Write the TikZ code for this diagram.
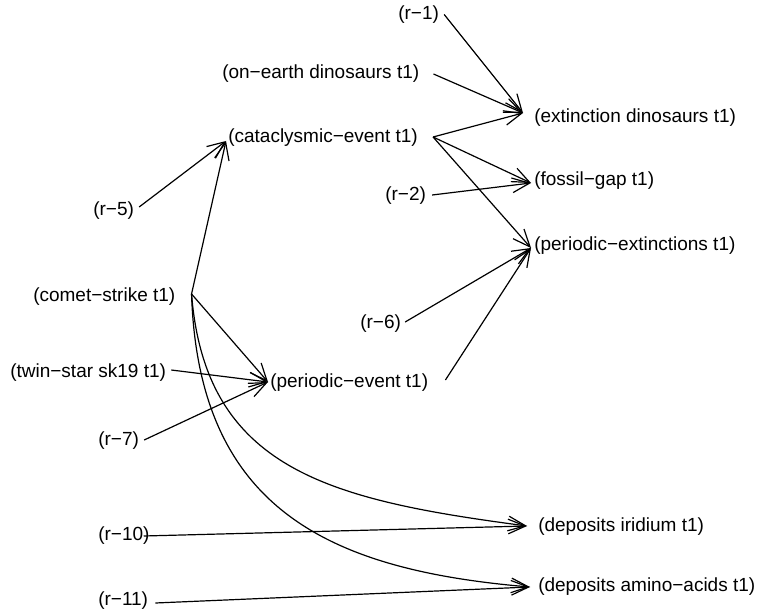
\documentclass[tikz,border=0pt]{standalone}
\usepackage{fontspec}
\setmainfont{Liberation Sans}
\usepackage{xcolor}
\usetikzlibrary{arrows.meta,calc}

\begin{document}
\begin{tikzpicture}[
  x=0.75pt,y=-0.75pt,
  term/.style={anchor=west,inner sep=0pt,font=\fontsize{14.25pt}{17pt}\selectfont},
  arrow/.style={-{Straight Barb[length=13pt,width=11pt]},line width=0.9pt}
]
\useasboundingbox (0,0) rectangle (760,616);
\node[term] (r1) at (398,14.5) {(r−1)};
\node[term] (onearth) at (222,74) {(on−earth dinosaurs t1)};
\node[term] (extinct) at (534,118) {(extinction dinosaurs t1)};
\node[term] (catac) at (228,138) {(cataclysmic−event t1)};
\node[term] (fossil) at (534,181) {(fossil−gap t1)};
\node[term] (r2) at (385,196) {(r−2)};
\node[term] (r5) at (93,211) {(r−5)};
\node[term] (perext) at (534,246) {(periodic−extinctions t1)};
\node[term] (comet) at (33,297) {(comet−strike t1)};
\node[term] (r6) at (360,324) {(r−6)};
\node[term] (twin) at (10,373) {(twin−star sk19 t1)};
\node[term] (perevent) at (270,383) {(periodic−event t1)};
\node[term] (r7) at (98,441) {(r−7)};
\node[term] (r10) at (98,536) {(r−10)};
\node[term] (irid) at (538,527) {(deposits iridium t1)};
\node[term] (r11) at (98,601) {(r−11)};
\node[term] (amino) at (538,587) {(deposits amino−acids t1)};
\draw[arrow] ($(r1.east)+(5,0)$) -- ($(extinct.west)+(-11,-5)$);
\draw[arrow] ($(onearth.east)+(14,0)$) -- ($(extinct.west)+(-11,-5)$);
\draw[arrow] ($(catac.east)+(15,-1)$) -- ($(extinct.west)+(-11,-5)$);
\draw[arrow] ($(catac.east)+(15,-1)$) -- ($(fossil.west)+(-3,2)$);
\draw[arrow] ($(catac.east)+(15,-1)$) -- ($(perext.west)+(-3,2)$);
\draw[arrow] ($(r2.east)+(6,-1)$) -- ($(fossil.west)+(-3,2)$);
\draw[arrow] ($(r6.east)+(4,-2)$) -- ($(perext.west)+(-3,2)$);
\draw[arrow] ($(perevent.east)+(17,-3)$) -- ($(perext.west)+(-3,2)$);
\draw[arrow] ($(r5.east)+(5,-4)$) -- ($(catac.west)+(-2,3)$);
\draw[arrow] ($(comet.east)+(16,-3)$) -- ($(catac.west)+(-2,3)$);
\draw[arrow] ($(comet.east)+(16,-3)$) -- ($(perevent.west)+(-2,-1)$);
\draw[arrow] ($(twin.east)+(5,-3)$) -- ($(perevent.west)+(-2,-1)$);
\draw[arrow] ($(r7.east)+(5,-1)$) -- ($(perevent.west)+(-2,-1)$);
\draw[arrow] ($(comet.east)+(16,-3)$) .. controls +(14,176) and +(-197,-26) .. ($(irid.west)+(-11,-1)$);
\draw[arrow] ($(comet.east)+(16,-3)$) .. controls +(7,216) and +(-200,-17) .. ($(amino.west)+(-8,0)$);
\draw[arrow] ($(r10.east)+(-6,0)$) -- ($(irid.west)+(-11,-1)$);
\draw[arrow] ($(r11.east)+(7,2)$) -- ($(amino.west)+(-8,0)$);
\end{tikzpicture}
\end{document}
